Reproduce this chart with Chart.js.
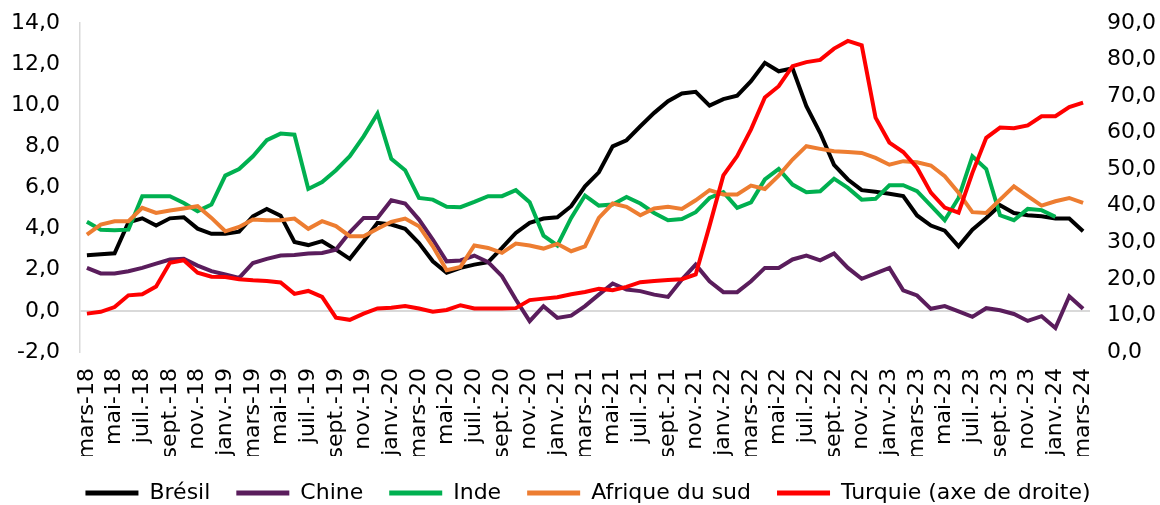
<!DOCTYPE html>
<html>
<head>
<meta charset="utf-8">
<script src="https://cdn.jsdelivr.net/npm/chart.js@4.4.1/dist/chart.umd.min.js"></script>
<style>
  html, body { margin: 0; padding: 0; background: #fff; }
  #wrap { width: 1160px; height: 505px; }
</style>
</head>
<body>
<div id="wrap"><canvas id="chart" width="1160" height="505"></canvas></div>
<script>
/* ---------- données ---------- */
const mois = [
  "mars-18","avr.-18","mai-18","juin-18","juil.-18","août-18","sept.-18","oct.-18","nov.-18","déc.-18","janv.-19","févr.-19",
  "mars-19","avr.-19","mai-19","juin-19","juil.-19","août-19","sept.-19","oct.-19","nov.-19","déc.-19","janv.-20","févr.-20",
  "mars-20","avr.-20","mai-20","juin-20","juil.-20","août-20","sept.-20","oct.-20","nov.-20","déc.-20","janv.-21","févr.-21",
  "mars-21","avr.-21","mai-21","juin-21","juil.-21","août-21","sept.-21","oct.-21","nov.-21","déc.-21","janv.-22","févr.-22",
  "mars-22","avr.-22","mai-22","juin-22","juil.-22","août-22","sept.-22","oct.-22","nov.-22","déc.-22","janv.-23","févr.-23",
  "mars-23","avr.-23","mai-23","juin-23","juil.-23","août-23","sept.-23","oct.-23","nov.-23","déc.-23","janv.-24","févr.-24",
  "mars-24"
];

const bresil = [
  2.7, 2.75, 2.8, 4.3, 4.5, 4.15, 4.5, 4.55, 4.0, 3.75, 3.75, 3.85,
  4.6, 4.96, 4.63, 3.35, 3.2, 3.39, 2.98, 2.53, 3.39, 4.28, 4.2, 3.99,
  3.3, 2.41, 1.85, 2.09, 2.25, 2.37, 3.06, 3.79, 4.28, 4.49, 4.55, 5.09,
  6.06, 6.74, 8.0, 8.3, 8.98, 9.63, 10.2, 10.57, 10.65, 9.98, 10.3, 10.47,
  11.17, 12.06, 11.65, 11.8, 9.95, 8.65, 7.1, 6.39, 5.87, 5.79, 5.7, 5.58,
  4.64, 4.15, 3.9, 3.14, 3.95, 4.52, 5.14, 4.76, 4.65, 4.6, 4.49, 4.49,
  3.87
];

const chine = [
  2.09, 1.82, 1.82, 1.93, 2.09, 2.3, 2.5, 2.53, 2.2, 1.93, 1.77, 1.6,
  2.33, 2.53, 2.69, 2.72, 2.79, 2.82, 2.98, 3.82, 4.52, 4.52, 5.38, 5.22,
  4.44, 3.47, 2.41, 2.45, 2.69, 2.37, 1.69, 0.55, -0.5, 0.23, -0.34, -0.23,
  0.23, 0.79, 1.33, 1.04, 0.96, 0.79, 0.68, 1.52, 2.25, 1.44, 0.91, 0.91,
  1.44, 2.09, 2.09, 2.5, 2.69, 2.46, 2.79, 2.09, 1.56, 1.82, 2.09, 1.0,
  0.75, 0.1, 0.23, -0.02, -0.29, 0.13, 0.03, -0.15, -0.49, -0.26, -0.83, 0.71,
  0.1
];

const inde = [
  4.33, 3.95, 3.92, 3.95, 5.58, 5.58, 5.58, 5.25, 4.85, 5.17, 6.58, 6.9,
  7.52, 8.3, 8.62, 8.57, 5.93, 6.27, 6.84, 7.52, 8.49, 9.59, 7.39, 6.84,
  5.49, 5.41, 5.06, 5.04, 5.3, 5.58, 5.58, 5.87, 5.28, 3.66, 3.18, 4.52,
  5.61, 5.12, 5.17, 5.54, 5.22, 4.76, 4.41, 4.47, 4.8, 5.49, 5.77, 5.01,
  5.28, 6.39, 6.9, 6.14, 5.77, 5.82, 6.43, 5.98, 5.41, 5.45, 6.11, 6.11,
  5.82, 5.12, 4.41, 5.49, 7.52, 6.9, 4.65, 4.41, 4.96, 4.9, 4.57, null,
  null
];

const afriqueSud = [
  3.71, 4.2, 4.36, 4.36, 5.01, 4.76, 4.88, 4.98, 5.09, 4.52, 3.87, 4.08,
  4.44, 4.41, 4.41, 4.49, 3.99, 4.36, 4.12, 3.63, 3.63, 3.99, 4.33, 4.49,
  4.12, 3.14, 1.98, 2.14, 3.18, 3.06, 2.82, 3.27, 3.18, 3.03, 3.26, 2.9,
  3.14, 4.52, 5.22, 5.06, 4.65, 4.98, 5.06, 4.96, 5.38, 5.87, 5.66, 5.66,
  6.09, 5.93, 6.58, 7.36, 8.01, 7.88, 7.76, 7.73, 7.68, 7.44, 7.11, 7.28,
  7.23, 7.07, 6.55, 5.74, 4.8, 4.76, 5.41, 6.06, 5.58, 5.12, 5.33, 5.49,
  5.25
];

// axe de droite
const turquie = [
  10.5, 11.0, 12.3, 15.5, 15.8, 17.9, 24.4, 25.1, 21.7, 20.6, 20.5, 19.9,
  19.6, 19.4, 19.0, 15.9, 16.7, 15.1, 9.4, 8.8, 10.5, 11.9, 12.1, 12.6,
  11.9, 11.0, 11.5, 12.8, 11.9, 11.9, 11.9, 12.0, 14.2, 14.6, 15.0, 15.8,
  16.4, 17.3, 16.9, 17.8, 19.1, 19.4, 19.7, 19.9, 21.2, 34.5, 48.3, 53.6,
  60.9, 69.6, 72.7, 78.2, 79.3, 79.9, 83.0, 85.1, 83.9, 64.1, 57.3, 54.7,
  50.4, 43.6, 39.5, 38.1, 49.0, 58.6, 61.4, 61.2, 62.0, 64.5, 64.5, 67.0,
  68.2
];

const FONT = { family: "'DejaVu Sans', Verdana, sans-serif", size: 22 };
const virgule = v => v.toFixed(1).replace(".", ",");

function serie(label, data, color, axis, order) {
  return {
    label, data, yAxisID: axis, order,
    borderColor: color, backgroundColor: color,
    borderWidth: 4, pointRadius: 0, tension: 0, spanGaps: false
  };
}

// largeur fixe des axes verticaux, sans marge haute/basse automatique
function axeFixe(largeur) {
  return s => { s.width = largeur; s.paddingTop = 0; s.paddingBottom = 0; };
}

/* ---------- graphique ---------- */
new Chart(document.getElementById("chart"), {
  type: "line",
  data: {
    labels: mois,
    datasets: [
      serie("Brésil", bresil, "#000000", "y", 4),
      serie("Chine", chine, "#5a1d5c", "y", 3),
      serie("Inde", inde, "#00b050", "y", 2),
      serie("Afrique du sud", afriqueSud, "#ed7d31", "y", 1),
      serie("Turquie (axe de droite)", turquie, "#ff0000", "y1", 0)
    ]
  },
  options: {
    responsive: false,
    animation: false,
    // légende décalée de 8 px vers la droite, zone de tracé inchangée
    layout: { padding: { top: 23, right: -8, bottom: -9, left: 8 } },
    scales: {
      x: {
        offset: true,
        grid: { display: false },
        border: { display: false },
        afterFit: s => { s.height = 104; },
        ticks: {
          autoSkip: false, maxRotation: 90, minRotation: 90,
          color: "#000", font: FONT, padding: 8,
          callback: (v, i) => (i % 2 === 0 ? mois[i] : "")
        }
      },
      y: {
        position: "left",
        min: -2, max: 14,
        afterFit: axeFixe(72),
        border: { display: true, color: "#d9d9d9", width: 1.5 },
        grid: {
          drawTicks: false,
          lineWidth: 2,
          color: c => (c.tick && c.tick.value === 0 ? "#d9d9d9" : "rgba(0,0,0,0)")
        },
        ticks: { stepSize: 2, color: "#000", font: FONT, padding: 20, callback: v => virgule(v) }
      },
      y1: {
        position: "right",
        min: 0, max: 90,
        afterFit: axeFixe(78),
        border: { display: false },
        grid: { display: false, drawTicks: false },
        ticks: { stepSize: 10, color: "#000", font: FONT, padding: 17, callback: v => virgule(v) }
      }
    },
    plugins: {
      tooltip: { enabled: false },
      legend: {
        position: "bottom",
        labels: {
          font: FONT, color: "#000",
          boxWidth: 53, boxHeight: 5, padding: 26,
          generateLabels: chart => Chart.defaults.plugins.legend.labels.generateLabels(chart)
            .map(l => ({ ...l, lineWidth: 0 }))
            .sort((a, b) => a.datasetIndex - b.datasetIndex)
        }
      }
    }
  }
});
</script>
</body>
</html>
